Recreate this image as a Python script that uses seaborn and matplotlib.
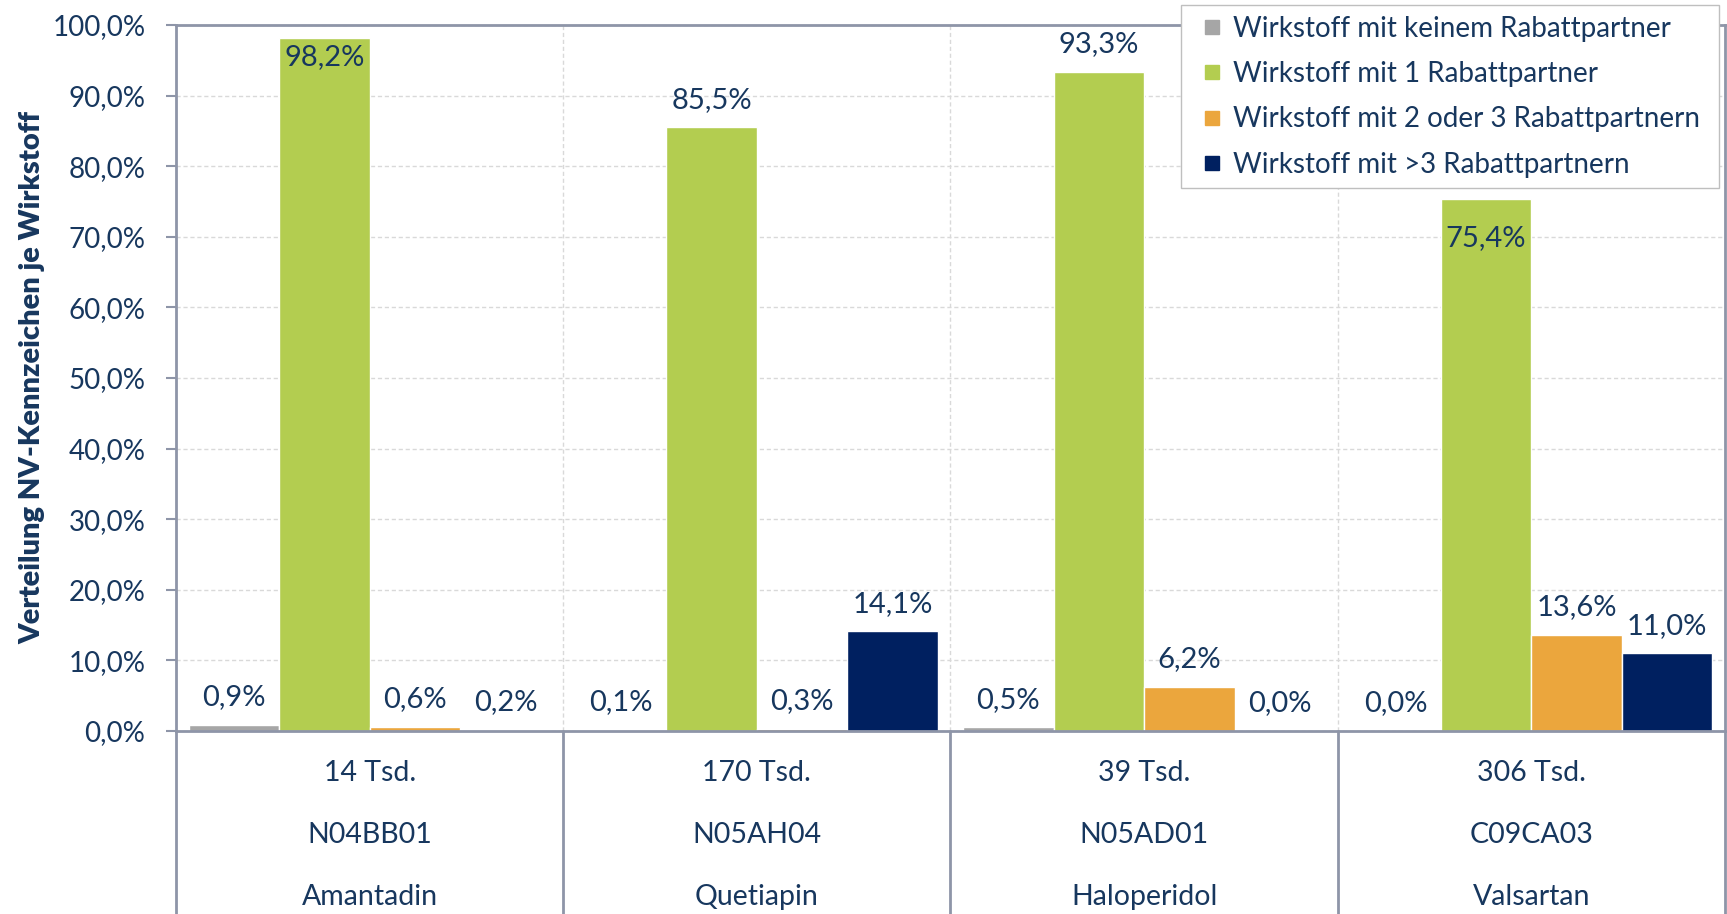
import matplotlib
matplotlib.use("Agg")
import matplotlib.pyplot as plt
from matplotlib.ticker import FuncFormatter, MultipleLocator
from matplotlib.lines import Line2D
import seaborn as sns
import pandas as pd

# ---- data ----
wirkstoffe = ["Amantadin", "Quetiapin", "Haloperidol", "Valsartan"]
atc_codes = ["N04BB01", "N05AH04", "N05AD01", "C09CA03"]
volumen = ["14 Tsd.", "170 Tsd.", "39 Tsd.", "306 Tsd."]
series_names = [
    "Wirkstoff mit keinem Rabattpartner",
    "Wirkstoff mit 1 Rabattpartner",
    "Wirkstoff mit 2 oder 3 Rabattpartnern",
    "Wirkstoff mit >3 Rabattpartnern",
]
keiner = [0.9, 0.1, 0.5, 0.0]
eins = [98.2, 85.5, 93.3, 75.4]
zwei_drei = [0.6, 0.3, 6.2, 13.6]
mehr_drei = [0.2, 14.1, 0.0, 11.0]
colors = ["#A6A6A6", "#B3CD50", "#EBA63D", "#002060"]

rows = []
for name, vals in zip(series_names, [keiner, eins, zwei_drei, mehr_drei]):
    for w, v in zip(wirkstoffe, vals):
        rows.append({"Wirkstoff": w, "Serie": name, "Wert": v})
df = pd.DataFrame(rows)

TXT = "#17375E"
GRID = "#D9D9D9"
AXC = "#8E95A8"

sns.set_theme(style="white")
plt.rcParams["font.family"] = ["Lato", "DejaVu Sans"]

fig = plt.figure(figsize=(17.27, 9.14), dpi=100)
ax = fig.add_axes([176 / 1727, 1 - 731 / 914, (1725 - 176) / 1727, (731 - 25) / 914])

sns.barplot(data=df, x="Wirkstoff", y="Wert", hue="Serie", order=wirkstoffe,
            hue_order=series_names, palette=colors, width=0.935, gap=0,
            saturation=1, ax=ax, legend=True)

ax.set_ylim(0, 100)
ax.set_xlim(-0.5, len(wirkstoffe) - 0.5)
ax.yaxis.set_major_locator(MultipleLocator(10))
ax.yaxis.set_major_formatter(FuncFormatter(lambda v, p: f"{v:.1f}%".replace(".", ",")))
ax.tick_params(axis="y", direction="out", length=7, width=1.5, color=AXC,
               labelsize=20, labelcolor=TXT, pad=15, left=True)
ax.tick_params(axis="x", length=0, labelbottom=False)
ax.set_xlabel("")
ax.set_ylabel("Verteilung NV-Kennzeichen je Wirkstoff", fontsize=21,
              fontweight="heavy", color=TXT)
ax.yaxis.set_label_coords(-0.0845, 0.5)

# gridlines
ax.grid(axis="y", color=GRID, linestyle=(0, (3, 2)), linewidth=1)
for b in [0.5, 1.5, 2.5]:
    ax.axvline(b, color=GRID, linestyle=(0, (3, 2)), linewidth=1, zorder=0)
ax.set_axisbelow(True)

for s in ["left", "bottom", "top", "right"]:
    ax.spines[s].set_visible(True)
    ax.spines[s].set_color(AXC)
    ax.spines[s].set_linewidth(2)

# category table below the axis
trans = ax.get_xaxis_transform()
for b in [-0.5, 0.5, 1.5, 2.5, 3.5]:
    ax.plot([b, b], [0, -0.3], transform=trans, color=AXC, linewidth=2, clip_on=False)
for i in range(len(wirkstoffe)):
    ax.text(i, -0.0595, volumen[i], transform=trans, ha="center", va="center", fontsize=20.5, color=TXT)
    ax.text(i, -0.147, atc_codes[i], transform=trans, ha="center", va="center", fontsize=20.5, color=TXT)
    ax.text(i, -0.235, wirkstoffe[i], transform=trans, ha="center", va="center", fontsize=20.5, color=TXT)

# value labels
inside = {(1, 0): -14, (1, 3): -28}
for si, cont in enumerate(ax.containers):
    vals = [keiner, eins, zwei_drei, mehr_drei][si]
    for ci, patch in enumerate(cont.patches):
        xc = patch.get_x() + patch.get_width() / 2
        h = patch.get_height()
        off = inside.get((si, ci), 20)
        ax.annotate(f"{vals[ci]:.1f}%".replace(".", ","), (xc, h), xytext=(0, off),
                    textcoords="offset points", ha="center", va="center",
                    fontsize=21, color=TXT, annotation_clip=False)

# legend
handles = [Line2D([], [], marker="s", linestyle="", markersize=10,
                  markerfacecolor=c, markeredgecolor=c) for c in colors]
ax.legend(handles, series_names, loc="upper left",
          bbox_to_anchor=(1181 / 1727, 1 - 185 / 914, (1719 - 1181) / 1727, 180 / 914),
          bbox_transform=fig.transFigure, mode="expand", frameon=True, fancybox=False,
          framealpha=1, edgecolor="#BFBFBF", fontsize=20, labelcolor=TXT,
          handlelength=1.5, handletextpad=0.0, labelspacing=0.7, borderpad=0.38,
          borderaxespad=0)

fig.savefig("out.png", dpi=100)
